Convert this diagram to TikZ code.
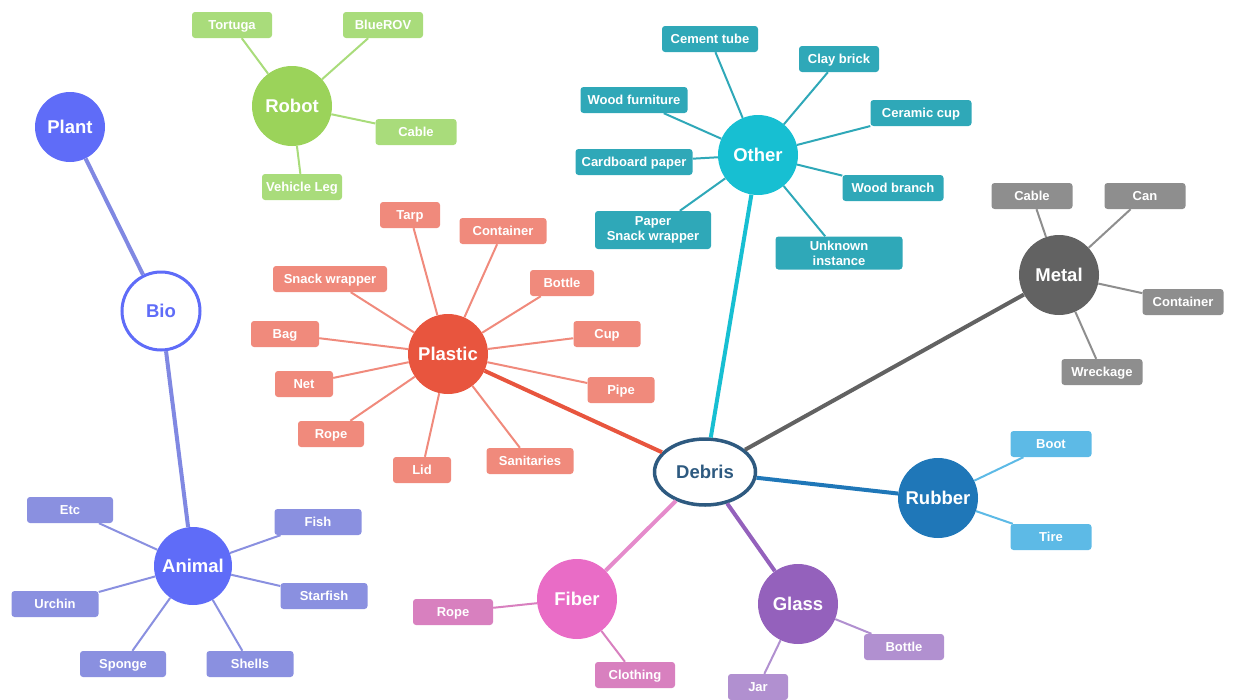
\documentclass[tikz,border=0pt]{standalone}
\usepackage{fontspec}
\setmainfont{Liberation Sans}
\usetikzlibrary{shapes.geometric}
\definecolor{robotc}{HTML}{9BD35A}
\definecolor{robotl}{HTML}{A9DC7B}
\definecolor{bioc}{HTML}{5F6CF8}
\definecolor{biol}{HTML}{8088E2}
\definecolor{animl}{HTML}{8A90E0}
\definecolor{plasc}{HTML}{E8553E}
\definecolor{plasl}{HTML}{F08A7C}
\definecolor{otherc}{HTML}{17BFD2}
\definecolor{otherl}{HTML}{2FA8B8}
\definecolor{metalc}{HTML}{626262}
\definecolor{metall}{HTML}{8E8E8E}
\definecolor{debc}{HTML}{2E5A80}
\definecolor{rubc}{HTML}{1F77B8}
\definecolor{rubl}{HTML}{5DBAE6}
\definecolor{fibc}{HTML}{E96CC6}
\definecolor{fibl}{HTML}{D880BF}
\definecolor{fibline}{HTML}{E58BCB}
\definecolor{glac}{HTML}{9461BC}
\definecolor{glal}{HTML}{B190D0}
\begin{document}
\begin{tikzpicture}[x=1pt,y=-1pt,
  hub/.style={circle,fill=#1,text=white,minimum size=80pt,inner sep=0pt,font=\fontsize{18.5}{20}\selectfont\bfseries},
  leafbase/.style={rectangle,rounded corners=3pt,fill=#1,text=white,minimum height=26pt,inner sep=0pt,font=\fontsize{13}{15}\selectfont\bfseries,align=center},
  leaf/.style={leafbase=#1,text height=9.5pt,text depth=0pt},
  thin/.style={draw=#1,line width=2pt},
  thick/.style={draw=#1,line width=4pt}]
\useasboundingbox (0,0) rectangle (1234,699);

% Debris
\node[ellipse,draw=debc,line width=3.5pt,fill=white,text=debc,minimum width=101pt,minimum height=66pt,inner sep=0pt,font=\fontsize{18.5}{20}\selectfont\bfseries,text height=13pt,text depth=0pt] (debris) at (705,472) {Debris};

% Robot
\node[hub=robotc] (robot) at (292,106) {Robot};
\node[leaf=robotl,minimum width=80pt] (tortuga) at (232,25) {Tortuga};
\node[leaf=robotl,minimum width=80pt] (bluerov) at (383,25) {BlueROV};
\node[leaf=robotl,minimum width=81pt] (rcable) at (416,132) {Cable};
\node[leaf=robotl,minimum width=80pt] (vleg) at (302,187) {Vehicle Leg};
\foreach \n in {tortuga,bluerov,rcable,vleg} \draw[thin=robotl] (robot) -- (\n);

% Bio
\node[hub=bioc,minimum size=70pt] (plant) at (70,127) {Plant};
\node[circle,draw=bioc,line width=3pt,fill=white,text=bioc,minimum size=78pt,inner sep=0pt,font=\fontsize{18.5}{20}\selectfont\bfseries] (bio) at (161,311) {Bio};
\node[hub=bioc,minimum size=78pt] (animal) at (193,566) {Animal};
\draw[thick=biol] (bio) -- (plant);
\draw[thick=biol] (bio) -- (animal);
\node[leaf=animl,minimum width=86pt] (etc) at (70,510) {Etc};
\node[leaf=animl,minimum width=87pt] (fish) at (318,522) {Fish};
\node[leaf=animl,minimum width=87pt] (starfish) at (324,596) {Starfish};
\node[leaf=animl,minimum width=87pt] (urchin) at (55,604) {Urchin};
\node[leaf=animl,minimum width=86pt] (sponge) at (123,664) {Sponge};
\node[leaf=animl,minimum width=87pt] (shells) at (250,664) {Shells};
\foreach \n in {etc,fish,starfish,urchin,sponge,shells} \draw[thin=animl] (animal) -- (\n);

% Plastic
\node[hub=plasc] (plastic) at (448,354) {Plastic};
\node[leaf=plasl,minimum width=60pt] (tarp) at (410,215) {Tarp};
\node[leaf=plasl,minimum width=87pt] (pcontainer) at (503,231) {Container};
\node[leaf=plasl,minimum width=114pt] (psnack) at (330,279) {Snack wrapper};
\node[leaf=plasl,minimum width=64pt] (pbottle) at (562,283) {Bottle};
\node[leaf=plasl,minimum width=68pt] (bag) at (285,334) {Bag};
\node[leaf=plasl,minimum width=67pt] (cup) at (607,334) {Cup};
\node[leaf=plasl,minimum width=58pt] (net) at (304,384) {Net};
\node[leaf=plasl,minimum width=67pt] (pipe) at (621,390) {Pipe};
\node[leaf=plasl,minimum width=66pt] (prope) at (331,434) {Rope};
\node[leaf=plasl,minimum width=58pt] (lid) at (422,470) {Lid};
\node[leaf=plasl,minimum width=87pt] (sanit) at (530,461) {Sanitaries};
\foreach \n in {tarp,pcontainer,psnack,pbottle,bag,cup,net,pipe,prope,lid,sanit} \draw[thin=plasl] (plastic) -- (\n);

% Other
\node[hub=otherc] (other) at (758,155) {Other};
\node[leaf=otherl,minimum width=96pt] (cement) at (710,39) {Cement tube};
\node[leaf=otherl,minimum width=80pt] (clay) at (839,59) {Clay brick};
\node[leaf=otherl,minimum width=107pt] (woodf) at (634,100) {Wood furniture};
\node[leaf=otherl,minimum width=101pt] (ceramic) at (921,113) {Ceramic cup};
\node[leaf=otherl,minimum width=117pt] (cardboard) at (634,162) {Cardboard paper};
\node[leaf=otherl,minimum width=101pt] (woodb) at (893,188) {Wood branch};
\node[leafbase=otherl,minimum width=116pt,minimum height=38pt] (paper) at (653,230) {Paper\\Snack wrapper};
\node[leafbase=otherl,minimum width=127pt,minimum height=33pt] (unknown) at (839,253) {Unknown\\instance};
\foreach \n in {cement,clay,woodf,ceramic,cardboard,woodb,paper,unknown} \draw[thin=otherl] (other) -- (\n);

% Metal
\node[hub=metalc] (metal) at (1059,275) {Metal};
\node[leaf=metall,minimum width=81pt] (mcable) at (1032,196) {Cable};
\node[leaf=metall,minimum width=81pt] (can) at (1145,196) {Can};
\node[leaf=metall,minimum width=81pt] (mcontainer) at (1183,302) {Container};
\node[leaf=metall,minimum width=81pt] (wreck) at (1102,372) {Wreckage};
\foreach \n in {mcable,can,mcontainer,wreck} \draw[thin=metall] (metal) -- (\n);

% Rubber
\node[hub=rubc] (rubber) at (938,498) {Rubber};
\node[leaf=rubl,minimum width=81pt] (boot) at (1051,444) {Boot};
\node[leaf=rubl,minimum width=81pt] (tire) at (1051,537) {Tire};
\foreach \n in {boot,tire} \draw[thin=rubl] (rubber) -- (\n);

% Fiber
\node[hub=fibc] (fiber) at (577,599) {Fiber};
\node[leaf=fibl,minimum width=80pt] (frope) at (453,612) {Rope};
\node[leaf=fibl,minimum width=80pt] (clothing) at (635,675) {Clothing};
\foreach \n in {frope,clothing} \draw[thin=fibl] (fiber) -- (\n);

% Glass
\node[hub=glac] (glass) at (798,604) {Glass};
\node[leaf=glal,minimum width=80pt] (gbottle) at (904,647) {Bottle};
\node[leaf=glal,minimum width=60pt] (jar) at (758,687) {Jar};
\foreach \n in {gbottle,jar} \draw[thin=glal] (glass) -- (\n);

% Main connectors
\draw[thick=plasc] (debris) -- (plastic);
\draw[thick=otherc] (debris) -- (other);
\draw[thick=metalc] (debris) -- (metal);
\draw[thick=rubc] (debris) -- (rubber);
\draw[thick=fibline] (debris) -- (fiber);
\draw[thick=glac] (debris) -- (glass);
\end{tikzpicture}
\end{document}
